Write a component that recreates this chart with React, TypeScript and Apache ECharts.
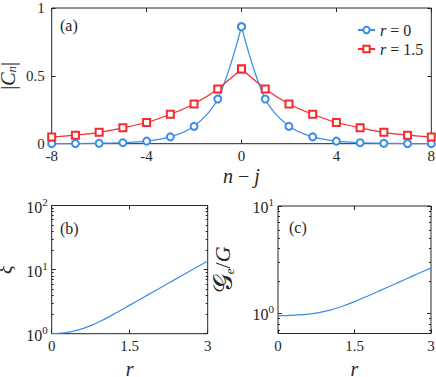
import React, { useEffect, useRef } from "react";
import * as echarts from "echarts";

// ---- data ----
const nIdx = [-8, -7, -6, -5, -4, -3, -2, -1, 0, 1, 2, 3, 4, 5, 6, 7, 8];
const cR0 = [0.0004, 0.001, 0.003, 0.0075, 0.019, 0.05, 0.128, 0.329, 0.862, 0.329, 0.128, 0.05, 0.019, 0.0075, 0.003, 0.001, 0.0004];
const cR15 = [0.049, 0.063, 0.084, 0.117, 0.156, 0.217, 0.293, 0.403, 0.55, 0.403, 0.293, 0.217, 0.156, 0.117, 0.084, 0.063, 0.049];

const rVals = [0, 0.25, 0.5, 0.75, 1.0, 1.25, 1.5, 1.75, 2.0, 2.25, 2.5, 2.75, 3.0];
const xiVals = [1.0, 1.035, 1.135, 1.334, 1.66, 2.14, 2.79, 3.63, 4.73, 6.17, 8.04, 10.47, 13.65];
const geVals = [0.955, 0.959, 0.973, 1.005, 1.067, 1.161, 1.288, 1.445, 1.629, 1.841, 2.08, 2.35, 2.655];

const xTicksA = [-8, -4, 0, 4, 8];
const yTicksA = [0, 0.5, 1];
const xTicksR = [0, 1.5, 3];
const decadesB = [0, 1, 2];
const decadesC = [0, 1];
const minorMantissa = [2, 3, 4, 5, 6, 7, 8, 9];
const minorBelowC = [0.7, 0.8, 0.9];
const yMinC = 0.65;

const AX = "#262626";
const BLUE = "#3A8DEB";
const RED = "#F62A2F";
const FONT = "Liberation Serif";

const minorB = [...minorMantissa.map((m) => Math.log10(m)), ...minorMantissa.map((m) => Math.log10(m * 10))];
const minorC = [...minorBelowC.map((m) => Math.log10(m)), ...minorMantissa.map((m) => Math.log10(m))];

const supRich = {
  b: { fontFamily: FONT, fontSize: 16, color: AX, lineHeight: 19, verticalAlign: "bottom" },
  s: { fontFamily: FONT, fontSize: 11, color: AX, lineHeight: 10, verticalAlign: "top" },
};
const mathRich = {
  i: { fontFamily: FONT, fontStyle: "italic", fontSize: 20, color: AX },
  u: { fontFamily: FONT, fontSize: 20, color: AX },
  sub: { fontFamily: FONT, fontStyle: "italic", fontSize: 13, color: AX, verticalAlign: "bottom", lineHeight: 11 },
  g: { fontFamily: "DejaVu Serif", fontSize: 27, color: AX },
  gi: { fontFamily: FONT, fontStyle: "italic", fontSize: 22, color: AX },
  gu: { fontFamily: FONT, fontSize: 22, color: AX },
};

function App() {
  const ref = useRef<HTMLDivElement>(null);
  useEffect(() => {
    if (!ref.current) return;
    const chart = echarts.init(ref.current, null, { renderer: "svg" });

    const gridBase = { show: true, borderColor: AX, borderWidth: 1, backgroundColor: "transparent", containLabel: false, outerBoundsMode: "none" };
    const noLine = { show: false, onZero: false };

    const tickOnly = (grid: number, position: string, min: number, max: number, values: number[], len: number) => ({
      type: "value",
      gridIndex: grid,
      position,
      min,
      max,
      axisLine: noLine,
      axisLabel: { show: false },
      splitLine: { show: false },
      axisTick: { show: true, inside: true, length: len, customValues: values, lineStyle: { color: AX, width: 1 } },
    });

    const nameStyle = { fontFamily: FONT, fontSize: 20, color: AX, rich: mathRich };
    const lab = { fontFamily: FONT, fontSize: 15, color: AX };

    const bottomAxis = (grid: number, min: number, max: number, interval: number, ticks: number[], name: string, gap: number) => ({
      type: "value", gridIndex: grid, position: "bottom", min, max, interval,
      axisLine: noLine, splitLine: { show: false },
      axisTick: { show: true, inside: true, length: 4, customValues: ticks, lineStyle: { color: AX } },
      axisLabel: { ...lab, margin: 5, customValues: ticks },
      name, nameLocation: "middle", nameGap: gap, nameMoveOverlap: false,
      nameTextStyle: nameStyle,
    });

    const xAxis: any[] = [
      bottomAxis(0, -8, 8, 4, xTicksA, "{i|n} − {i|j}", 22),
      tickOnly(0, "top", -8, 8, xTicksA, 4),
      bottomAxis(1, 0, 3, 1.5, xTicksR, "{i|r}", 25),
      tickOnly(1, "top", 0, 3, xTicksR, 4),
      bottomAxis(2, 0, 3, 1.5, xTicksR, "{i|r}", 25),
      tickOnly(2, "top", 0, 3, xTicksR, 4),
    ];

    const powFmt = (v: number) => `{b|10}{s|${Math.round(v)}}`;
    const yMinCLog = Math.log10(yMinC);

    const yAxis: any[] = [
      {
        type: "value", gridIndex: 0, position: "left", min: 0, max: 1, interval: 0.5,
        axisLine: noLine, splitLine: { show: false },
        axisTick: { show: true, inside: true, length: 4, customValues: yTicksA, lineStyle: { color: AX } },
        axisLabel: { ...lab, margin: 7, customValues: yTicksA },
        name: "|{i|C}{sub|n}|", nameLocation: "middle", nameGap: 34, nameRotate: 90, nameMoveOverlap: false,
        nameTextStyle: nameStyle,
      },
      tickOnly(0, "right", 0, 1, yTicksA, 4),
      {
        type: "value", gridIndex: 1, position: "left", min: 0, max: 2,
        axisLine: noLine, splitLine: { show: false },
        axisTick: { show: true, inside: true, length: 4, customValues: decadesB, lineStyle: { color: AX } },
        axisLabel: { margin: 4, customValues: decadesB, formatter: powFmt, rich: supRich },
        name: "{i|ξ}", nameLocation: "middle", nameGap: 37, nameRotate: 90, nameMoveOverlap: false,
        nameTextStyle: nameStyle,
      },
      tickOnly(1, "left", 0, 2, minorB, 2),
      tickOnly(1, "right", 0, 2, decadesB, 4),
      tickOnly(1, "right", 0, 2, minorB, 2),
      {
        type: "value", gridIndex: 2, position: "left", min: yMinCLog, max: 1,
        axisLine: noLine, splitLine: { show: false },
        axisTick: { show: true, inside: true, length: 4, customValues: decadesC, lineStyle: { color: AX } },
        axisLabel: { margin: 4, customValues: decadesC, formatter: powFmt, rich: supRich },
        name: "{g|𝒢}{sub|e}{gu|/}{gi|G}", nameLocation: "middle", nameGap: 42, nameRotate: 90, nameMoveOverlap: false,
        nameTextStyle: nameStyle,
      },
      tickOnly(2, "left", yMinCLog, 1, minorC, 2),
      tickOnly(2, "right", yMinCLog, 1, decadesC, 4),
      tickOnly(2, "right", yMinCLog, 1, minorC, 2),
    ];

    const pairs = (xs: number[], ys: number[]) => xs.map((x, i) => [x, ys[i]]);
    const logPairs = (xs: number[], ys: number[]) => xs.map((x, i) => [x, Math.log10(ys[i])]);
    const half = (arr: number[][], side: "L" | "R") => (side === "L" ? arr.slice(0, 9) : arr.slice(8));

    const a0 = pairs(nIdx, cR0);
    const a15 = pairs(nIdx, cR15);

    const lineA = (name: string, data: number[][], color: string, symbol: string, smooth: number) => ({
      type: "line",
      name,
      xAxisIndex: 0,
      yAxisIndex: 0,
      data,
      smooth,
      symbol,
      symbolSize: 7,
      showSymbol: true,
      color,
      lineStyle: { color, width: 1.2 },
      itemStyle: { color, borderColor: color, borderWidth: 1 },
      emphasis: { disabled: true },
      clip: false,
    });

    const option: any = {
      animation: false,
      textStyle: { fontFamily: FONT },
      grid: [
        { ...gridBase, left: 51.7, top: 8, width: 379.6, height: 135.7 },
        { ...gridBase, left: 51.7, top: 205.5, width: 156, height: 128.2 },
        { ...gridBase, left: 278, top: 206, width: 153, height: 127.5 },
      ],
      xAxis,
      yAxis,
      legend: {
        data: ["r = 0", "r = 1.5"],
        orient: "vertical",
        left: 352,
        top: 17,
        itemWidth: 17,
        itemHeight: 8,
        itemGap: 3,
        selectedMode: false,
        formatter: (name: string) => (name === "r = 0" ? "{i|r} = 0" : "{i|r} = 1.5"),
        textStyle: {
          fontFamily: FONT, fontSize: 16, color: AX,
          rich: { i: { fontFamily: FONT, fontStyle: "italic", fontSize: 16, color: AX } },
        },
      },
      series: [
        lineA("r = 0", half(a0, "L"), BLUE, "emptyCircle", 0.35),
        lineA("r = 0", half(a0, "R"), BLUE, "emptyCircle", 0.35),
        lineA("r = 1.5", half(a15, "L"), RED, "emptyRect", 0.2),
        lineA("r = 1.5", half(a15, "R"), RED, "emptyRect", 0.2),
        {
          type: "line", name: "xi", xAxisIndex: 2, yAxisIndex: 2,
          data: logPairs(rVals, xiVals), smooth: 0.4, showSymbol: false,
          lineStyle: { color: BLUE, width: 1.2 }, color: BLUE, emphasis: { disabled: true },
        },
        {
          type: "line", name: "ge", xAxisIndex: 4, yAxisIndex: 6,
          data: logPairs(rVals, geVals), smooth: 0.4, showSymbol: false,
          lineStyle: { color: BLUE, width: 1.2 }, color: BLUE, emphasis: { disabled: true },
        },
      ],
      graphic: [
        { type: "text", left: 60, top: 17, style: { text: "(a)", font: `16px ${FONT}`, fill: AX } },
        { type: "text", left: 60, top: 220, style: { text: "(b)", font: `16px ${FONT}`, fill: AX } },
        { type: "text", left: 289, top: 219, style: { text: "(c)", font: `16px ${FONT}`, fill: AX } },
      ],
    };

    chart.setOption(option);
    return () => chart.dispose();
  }, []);

  return (
    <div
      ref={ref}
      style={{ position: "absolute", left: 0, top: 0, width: 436, height: 377, background: "#fff" }}
    />
  );
}

export default App;
